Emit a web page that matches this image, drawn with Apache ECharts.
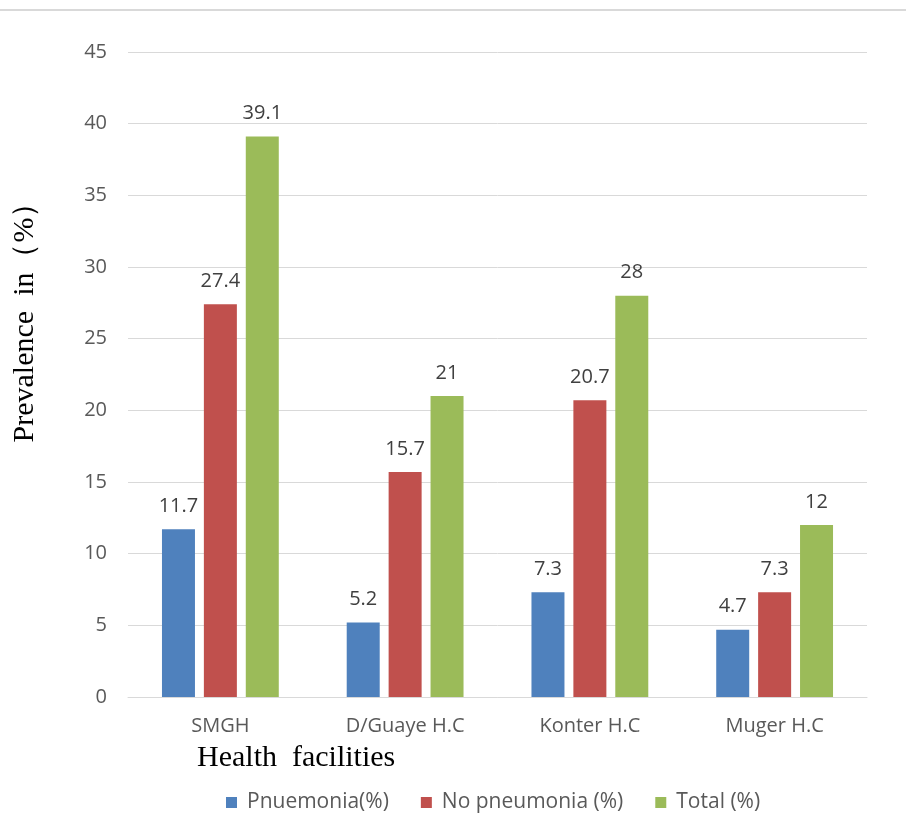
<!DOCTYPE html>
<html><head><meta charset="utf-8">
<script src="https://cdn.jsdelivr.net/npm/echarts@6/dist/echarts.min.js"></script>
<style>html,body{margin:0;padding:0;background:#fff}#c{width:906px;height:814px}</style>
</head><body><div id="c"></div>
<script>
const categories = ["SMGH", "D/Guaye H.C", "Konter H.C", "Muger H.C"];
const pneumonia = [11.7, 5.2, 7.3, 4.7];
const noPneumonia = [27.4, 15.7, 20.7, 7.3];
const total = [39.1, 21, 28, 12];
const seriesNames = ["Pnuemonia(%)", "No pneumonia (%)", "Total (%)"];
const yTitle = "Prevalence  in（%）";
const xTitle = "Health  facilities";
const colors = ["#4F81BD", "#C0504D", "#9BBB59"];

const chart = echarts.init(document.getElementById('c'));
const sans = 'Open Sans';
const lbl = {show: true, position: 'top', distance: 13, color: '#404040', fontSize: 20, fontFamily: sans};
const mk = (name, data, color) => ({name, type: 'bar', data, barWidth: 33, barGap: '27%',
  itemStyle: {color}, label: lbl});
chart.setOption({
  animation: false,
  graphic: [
    {type: 'line', shape: {x1: 0, y1: 10, x2: 906, y2: 10}, style: {stroke: '#d9d9d9', lineWidth: 2}},
    {type: 'text', x: 25, y: 315, rotation: Math.PI / 2,
      style: {text: yTitle, font: '30px "Liberation Serif"', fill: '#000', textAlign: 'center', textVerticalAlign: 'middle'}},
    {type: 'text', x: 197, y: 758,
      style: {text: xTitle, font: '30px "Liberation Serif"', fill: '#000', textAlign: 'left', textVerticalAlign: 'middle'}}
  ],
  grid: {left: 128, right: 39, top: 52, bottom: 117},
  legend: {top: 787, left: 221, itemWidth: 11, itemHeight: 11, itemGap: 32, icon: 'rect',
    textStyle: {color: '#595959', fontSize: 21, fontFamily: sans, padding: [0, 0, 0, 5]},
    data: seriesNames},
  xAxis: {type: 'category', data: categories,
    axisLine: {lineStyle: {color: '#d9d9d9', width: 1}}, axisTick: {show: false},
    axisLabel: {color: '#595959', fontSize: 20, fontFamily: sans, margin: 19}},
  yAxis: {type: 'value', min: 0, max: 45, interval: 5,
    axisLine: {show: false}, axisTick: {show: false},
    splitLine: {lineStyle: {color: '#d9d9d9'}},
    axisLabel: {color: '#595959', fontSize: 20, fontFamily: sans, margin: 21}},
  series: [mk(seriesNames[0], pneumonia, colors[0]), mk(seriesNames[1], noPneumonia, colors[1]), mk(seriesNames[2], total, colors[2])]
});
</script></body></html>
